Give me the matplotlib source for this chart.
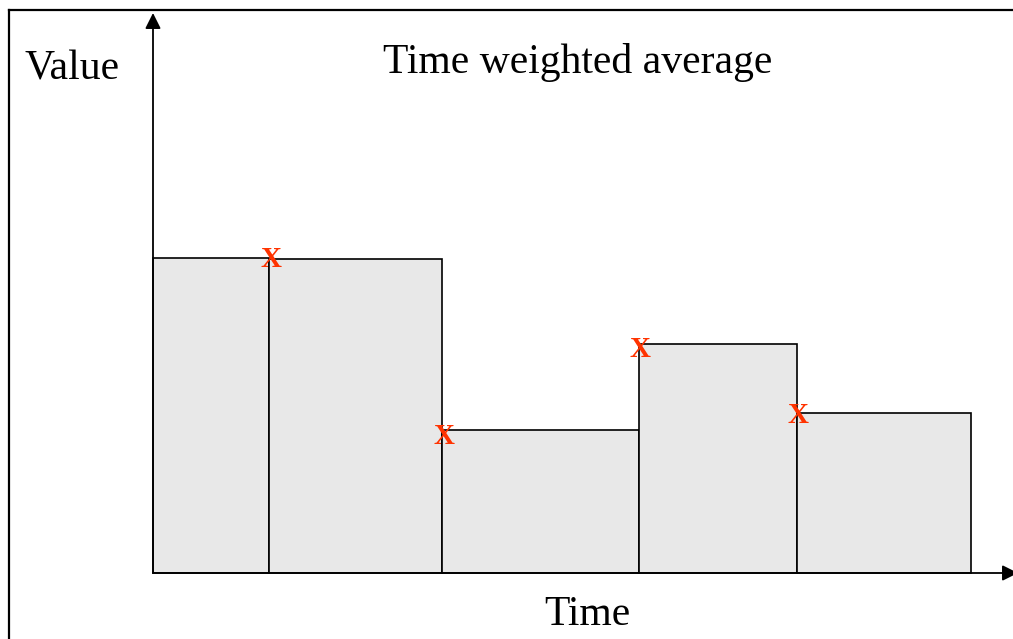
import matplotlib
matplotlib.use("Agg")
import matplotlib.pyplot as plt
from matplotlib.lines import Line2D
import numpy as np

# time edges of each step and the value held over that step
edges = [0, 1.16, 2.89, 4.86, 6.44, 8.18]
values = [3.15, 3.14, 1.43, 2.29, 1.60]

# sample points (red X)
sample_t = [1.18, 2.91, 4.87, 6.45]
sample_v = [3.16, 1.39, 2.26, 1.60]

plt.rcParams['font.family'] = ['Liberation Serif', 'DejaVu Serif']

W, H = 1013, 639
fig = plt.figure(figsize=(W / 100, H / 100), dpi=100)
ax = fig.add_axes([0, 0, 1, 1])
ax.set_xlim(-1.53, (W - 153) / 100)
ax.set_ylim(-(H - 573) / 100, 5.73)
ax.axis('off')

ax.bar(edges[:-1], values, width=np.diff(edges), align='edge',
       color='#e8e8e8', edgecolor='black', linewidth=1.2, zorder=2)

for t, v in zip(sample_t, sample_v):
    ax.annotate('X', (t, v), xytext=(0, -7), textcoords='offset points',
                ha='center', va='baseline', color='#ff3300', fontsize=21,
                fontweight='bold', zorder=4)

# axes with arrow heads
arrow = dict(arrowstyle='-|>,head_length=0.47,head_width=0.235',
             mutation_scale=20, color='black', lw=1.3, shrinkA=0, shrinkB=0)
ax.annotate('', xy=(0, 5.60), xytext=(0, 0), arrowprops=arrow, zorder=3,
            annotation_clip=False)
ax.annotate('', xy=(8.65, 0), xytext=(0, 0), arrowprops=arrow, zorder=3,
            annotation_clip=False)

# frame around the slide (top and left edges visible)
fig.add_artist(Line2D([9 / W, 1], [1 - 10 / H, 1 - 10 / H], color='black', lw=1.6))
fig.add_artist(Line2D([9 / W, 9 / W], [1 - 10 / H, 0], color='black', lw=1.6))

fig.text(72 / W, 1 - 80 / H, 'Value', ha='center', va='baseline', fontsize=30)
fig.text(578 / W, 1 - 73 / H, 'Time weighted average', ha='center', va='baseline', fontsize=30)
fig.text(587 / W, 1 - 625 / H, 'Time', ha='center', va='baseline', fontsize=30)

fig.savefig('out.png', dpi=100)
